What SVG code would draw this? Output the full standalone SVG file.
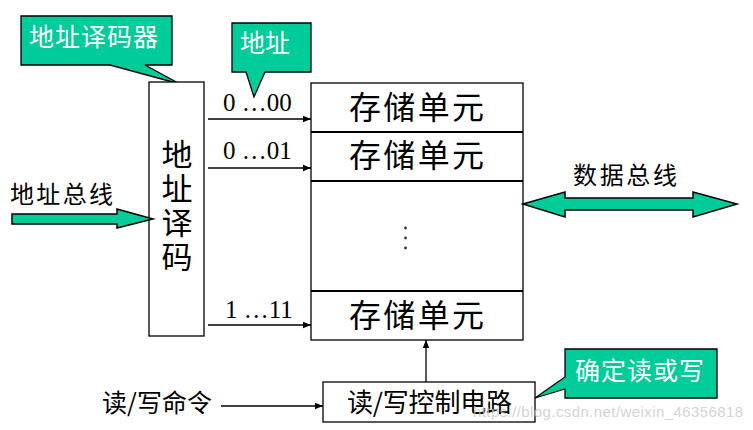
<svg xmlns="http://www.w3.org/2000/svg" width="753" height="430" viewBox="0 0 753 430">
<style>
.box{fill:#fff;stroke:#000;stroke-width:1.3}
.div{stroke:#000;stroke-width:2}
.cjk{font-family:"Noto Sans CJK SC","Noto Sans",sans-serif;fill:#000}
.num{font-family:"Liberation Serif","Times New Roman",serif;font-size:25px;fill:#000}
.call{fill:#00CC99;stroke:#000;stroke-width:1.3;stroke-linejoin:miter}
.ctext{font-family:"Noto Sans CJK SC","Noto Sans",sans-serif;font-size:25px;fill:#fff}
.line{stroke:#000;stroke-width:1.3;fill:none}
.bus{fill:#00CC99;stroke:#000;stroke-width:1.5}
</style>
<defs>
<marker id="ah" viewBox="0 0 10 10" refX="10" refY="5" markerWidth="8" markerHeight="8" markerUnits="userSpaceOnUse" orient="auto">
<path d="M0,1 L10,5 L0,9 Z" fill="#000"/>
</marker>
</defs>
<rect width="753" height="430" fill="#fff"/>

<g id="callout-decoder">
<path class="call" d="M21,16 H172 V65 H145 L180,84 L110,65 H21 Z"/>
<text class="ctext" x="29" y="46" textLength="129">地址译码器</text>
</g>

<g id="callout-address">
<path class="call" d="M232,23 H311 V72 H265 L254,97 L246,72 H232 Z"/>
<text class="ctext" x="240" y="52" font-size="26">地址</text>
</g>

<g id="decoder">
<rect class="box" x="149" y="82" width="55" height="254"/>
<text class="cjk" font-size="31" x="177" y="139" writing-mode="vertical-rl" letter-spacing="3">地址译码</text>
</g>

<g id="memory">
<rect class="box" x="311" y="83" width="212" height="257"/>
<line class="div" x1="311" y1="132" x2="523" y2="132"/>
<line class="div" x1="311" y1="181" x2="523" y2="181"/>
<line class="div" x1="311" y1="291" x2="523" y2="291"/>
<text class="cjk" font-size="32" x="349" y="119" textLength="135">存储单元</text>
<text class="cjk" font-size="32" x="349" y="167" textLength="135">存储单元</text>
<text class="cjk" font-size="32" x="349" y="327" textLength="135">存储单元</text>
<circle cx="405.5" cy="228" r="1.4" fill="#333"/>
<circle cx="405.5" cy="238" r="1.4" fill="#333"/>
<circle cx="405.5" cy="248" r="1.4" fill="#333"/>
</g>

<g id="rw-control">
<rect class="box" x="323" y="382" width="212" height="40"/>
<text class="cjk" font-size="26" x="347" y="412" textLength="165">读/写控制电路</text>
</g>

<g id="callout-rw">
<path class="call" d="M565,349 H717 V398 H565 V389 L535,398 L565,377 Z"/>
<text class="ctext" x="575" y="380" textLength="129">确定读或写</text>
</g>

<g id="labels">
<text class="cjk" font-size="24" x="10" y="203" textLength="103">地址总线</text>
<text class="cjk" font-size="24" x="573" y="184" textLength="104">数据总线</text>
<text class="cjk" font-size="25" x="102" y="412" textLength="110">读/写命令</text>
<text class="num" x="223" y="111">0 …00</text>
<text class="num" x="223" y="159">0 …01</text>
<text class="num" x="225" y="318">1 …11</text>
</g>

<g id="connectors">
<line class="line" x1="208" y1="119" x2="311" y2="119" marker-end="url(#ah)"/>
<line class="line" x1="208" y1="168" x2="311" y2="168" marker-end="url(#ah)"/>
<line class="line" x1="208" y1="325" x2="311" y2="325" marker-end="url(#ah)"/>
<line class="line" x1="221" y1="406" x2="323" y2="406" marker-end="url(#ah)"/>
<line class="line" x1="426" y1="382" x2="426" y2="340" marker-end="url(#ah)"/>
<path class="bus" d="M12,214 H117 V209 L153,219 L117,228 V224 H12 Z"/>
<path class="bus" d="M523,204 L565,192 V198 H693 V192 L737,204 L693,217 V210 H565 V217 Z"/>
</g>

<text x="473" y="417" font-family="Liberation Sans,Arial,sans-serif" font-size="15" fill="#c8c8c8" fill-opacity="0.8" textLength="270">https://blog.csdn.net/weixin_46356818</text>
</svg>
